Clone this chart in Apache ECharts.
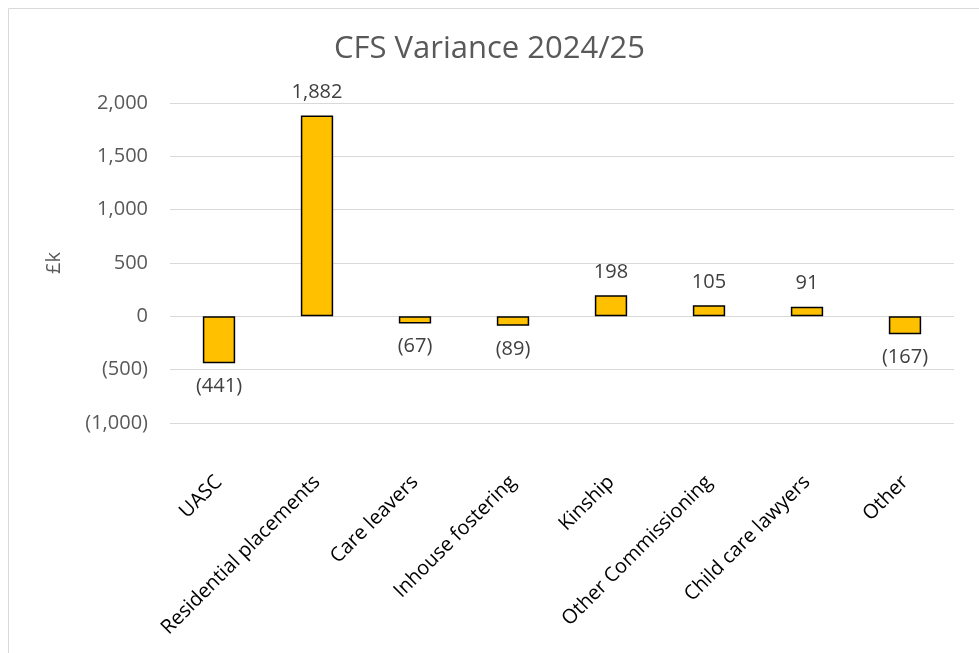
<!DOCTYPE html>
<html>
<head>
<meta charset="utf-8">
<script src="https://cdn.jsdelivr.net/npm/echarts@6/dist/echarts.min.js"></script>
<style>
  html, body { margin: 0; padding: 0; background: #fff; }
  #chart { width: 979px; height: 653px; }
</style>
</head>
<body>
<div id="chart"></div>
<script>
const categories = ['UASC', 'Residential placements', 'Care leavers', 'Inhouse fostering', 'Kinship', 'Other Commissioning', 'Child care lawyers', 'Other']
const variance = [-441, 1882, -67, -89, 198, 105, 91, -167]
const yTicks = { min: -1000, max: 2000, interval: 500 }

const font = "'Open Sans', sans-serif"

function fmt (v) {
  const s = Math.abs(v).toLocaleString('en-GB')
  return v < 0 ? '(' + s + ')' : s
}

const chart = echarts.init(document.getElementById('chart'))
chart.setOption({
  animation: false,
  backgroundColor: '#fff',
  textStyle: { fontFamily: font },
  title: {
    text: 'CFS Variance 2024/25',
    left: 'center',
    top: 29,
    textStyle: { fontFamily: font, fontSize: 31, fontWeight: 'normal', color: '#595959' }
  },
  graphic: [{
    type: 'rect',
    shape: { x: 8.5, y: 8.5, width: 1000, height: 700 },
    style: { fill: 'none', stroke: '#d9d9d9', lineWidth: 1 },
    silent: true
  }],
  grid: { left: 170, right: 25, top: 103, bottom: 230 },
  xAxis: {
    type: 'category',
    data: categories,
    axisLine: { show: false },
    axisTick: { show: false },
    axisLabel: {
      rotate: 45,
      interval: 0,
      margin: 56,
      fontSize: 20,
      color: '#000',
      fontFamily: font
    }
  },
  yAxis: {
    type: 'value',
    min: yTicks.min,
    max: yTicks.max,
    interval: yTicks.interval,
    name: '£k',
    nameLocation: 'middle',
    nameRotate: 90,
    nameGap: 106,
    nameTextStyle: { fontSize: 20, color: '#595959', fontFamily: font },
    axisLine: { show: false },
    axisTick: { show: false },
    axisLabel: { fontSize: 20, color: '#595959', margin: 22, formatter: fmt, fontFamily: font },
    splitLine: { lineStyle: { color: '#d9d9d9', width: 1 } }
  },
  series: [{
    type: 'bar',
    barWidth: '33%',
    data: variance.map(v => ({
      value: v,
      label: { position: v < 0 ? 'bottom' : 'top' }
    })),
    itemStyle: { color: '#FFC000', borderColor: '#000', borderWidth: 1.5 },
    label: {
      show: true,
      distance: 13,
      fontSize: 20,
      color: '#404040',
      fontFamily: font,
      formatter: p => fmt(p.value)
    }
  }]
})
</script>
</body>
</html>
